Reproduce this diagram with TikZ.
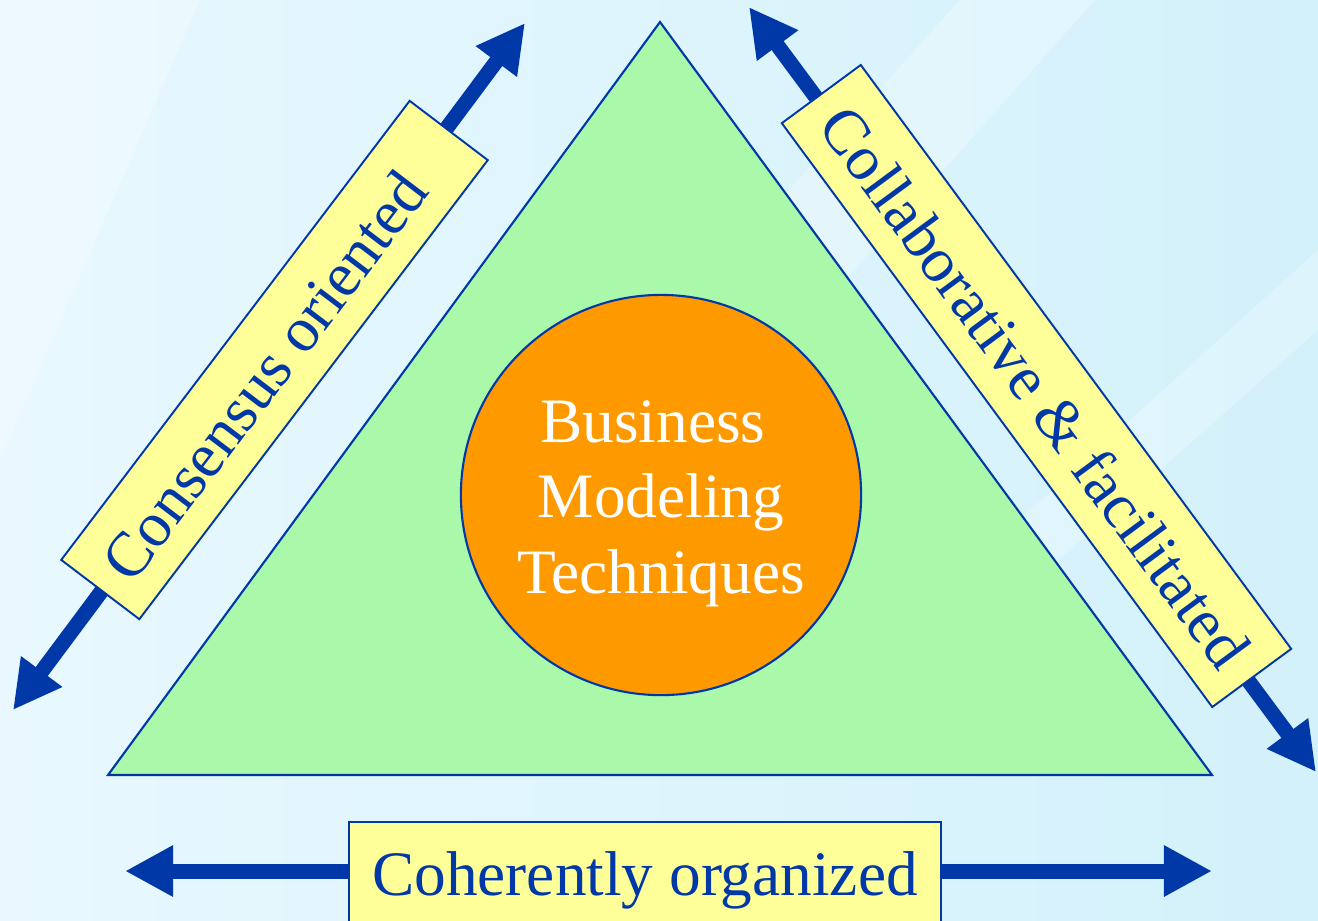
\documentclass[tikz,border=0pt]{standalone}
\usepackage{fontspec}
\setmainfont{Liberation Serif}
\usetikzlibrary{arrows.meta}
\definecolor{bgA}{HTML}{E8F8FE}
\definecolor{bgB}{HTML}{D3F1FB}
\definecolor{navy}{HTML}{0038A8}
\definecolor{boxyellow}{HTML}{FFFF99}
\definecolor{trigreen}{HTML}{AAF8AA}
\definecolor{orangefill}{HTML}{FF9900}
\begin{document}
\begin{tikzpicture}[x=0.01cm,y=-0.01cm,
  label box/.style={draw=navy, line width=0.55pt, fill=boxyellow, text=navy,
    font=\fontsize{18}{22}\selectfont, inner sep=0pt,
    text height=0.72cm, text depth=0.26cm},
  dbl arrow/.style={draw=navy, line width=0.15cm,
    {Triangle[length=0.48cm,width=0.48cm]}-{Triangle[length=0.48cm,width=0.48cm]}},
  band/.style={fill=white, opacity=0.25}
]
\useasboundingbox (0,0) rectangle (1318,920);
% background
\shade[left color=bgA, right color=bgB] (0,0) rectangle (1318,920);
\fill[band] (960,0) -- (1095,0) -- (560,600) -- (420,600) -- cycle;
\fill[band] (0,0) -- (200,0) -- (0,460) -- cycle;
\fill[band] (1318,250) -- (1318,330) -- (900,700) -- (820,700) -- cycle;

% arrow end points
\coordinate (L1) at (13,710);
\coordinate (L2) at (525,23);
\coordinate (R1) at (749,7);
\coordinate (R2) at (1316,772);
\coordinate (B1) at (125,871);
\coordinate (B2) at (1212,871);
\draw[dbl arrow] (L1) -- (L2);
\draw[dbl arrow] (R1) -- (R2);
\draw[dbl arrow] (B1) -- (B2);

% triangle
\coordinate (TA) at (660,22);
\coordinate (TB) at (108,775);
\coordinate (TC) at (1212,775);
\filldraw[fill=trigreen, draw=navy, line width=0.6pt] (TA) -- (TB) -- (TC) -- cycle;

% core circle
\node[circle, draw=navy, line width=0.6pt, fill=orangefill, minimum size=4cm,
  inner sep=0pt, text=white, align=center,
  font=\fontsize{18}{21.5}\selectfont] (core) at (661,495)
  {\rule{0pt}{0.59cm}Business\hspace*{0.16cm}\\Modeling\\Techniques};

% label boxes
\node[label box, rotate=52.8, minimum width=5.76cm] (cons) at (274.5,360)
  {Consensus oriented\hspace*{0.38cm}};
\node[label box, rotate=-53.6, minimum width=7.25cm] (coll) at (1036.5,386)
  {Collaborative \& facilitated};
\node[label box, minimum width=5.92cm, text height=0.73cm, text depth=0.27cm]
  (coh) at (645,872) {Coherently organized};
\end{tikzpicture}
\end{document}
